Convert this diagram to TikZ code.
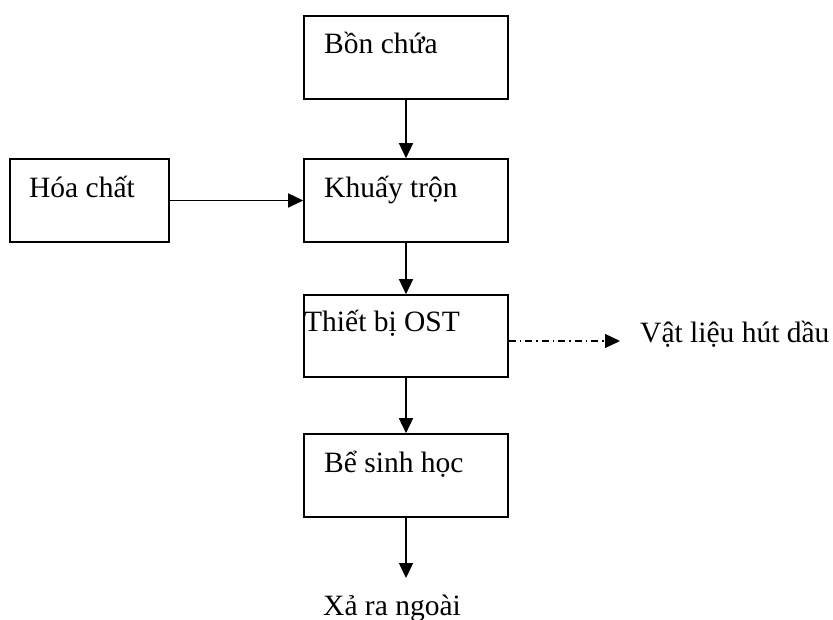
\documentclass[tikz,border=0pt]{standalone}
\usepackage{fontspec}
\setmainfont{Liberation Serif}
\usetikzlibrary{arrows.meta}
\begin{document}
\begin{tikzpicture}[x=1pt,y=-1pt,
  box/.style={draw, line width=1.6pt, minimum width=204pt, minimum height=83pt, inner sep=0pt},
  txt/.style={inner sep=0pt, anchor=base west, font=\fontsize{29.5}{34}\selectfont},
  flow/.style={line width=1.5pt, -{Triangle[length=15pt,width=14pt]}},
  dashflow/.style={line width=1.3pt, dash pattern=on 7pt off 4pt on 1.5pt off 4pt,
    -{Triangle[length=15pt,width=14pt]}}]
  \useasboundingbox (0,0) rectangle (833,620);

  % process boxes
  \node[box] (bon) at (406,57.5) {};
  \node[box] (khuay) at (406,200.5) {};
  \node[box, minimum width=159pt] (hoa) at (89.5,200.5) {};
  \node[box, minimum height=82pt] (thiet) at (406,336) {};
  \node[box] (be) at (406,475.5) {};

  % box captions
  \node[txt] (tbon) at (324,54) {Bồn chứa};
  \node[txt] (thoa) at (29,198) {Hóa chất};
  \node[txt] (tkhuay) at (324,198) {Khuấy trộn};
  \node[txt] (tthiet) at (304,332) {Thiết bị OST};
  \node[txt] (tbe) at (324,472) {Bể sinh học};

  % outputs
  \node[txt] (vatlieu) at (640,343) {Vật liệu hút dầu};
  \node[txt] (xa) at (323,615) {Xả ra ngoài};
  \coordinate (vend) at (620,341);
  \coordinate (xend) at (406,578);

  % connectors
  \draw[flow] (bon.south) -- (khuay.north);
  \draw[flow] (hoa.east) -- (khuay.west);
  \draw[flow] (khuay.south) -- (thiet.north);
  \draw[flow] (thiet.south) -- (be.north);
  \draw[flow] (be.south) -- (xend);
  \draw[dashflow] (thiet.east |- vend) -- (vend);
\end{tikzpicture}
\end{document}
